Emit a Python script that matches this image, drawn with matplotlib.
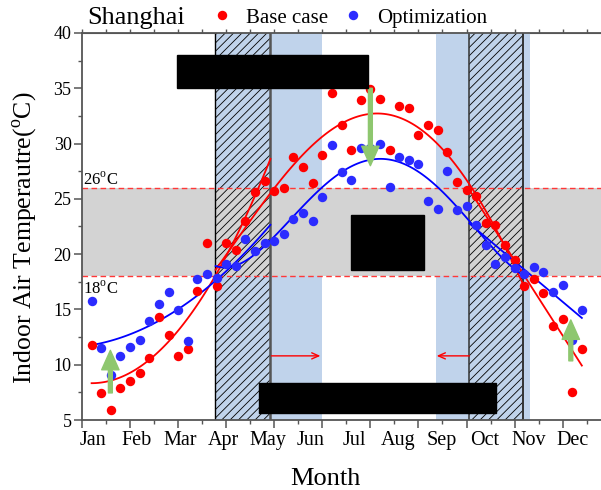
import numpy as np
import matplotlib
matplotlib.use('Agg')
import matplotlib.pyplot as plt
from matplotlib.lines import Line2D
from matplotlib.patches import Rectangle

plt.rcParams['font.family'] = 'Liberation Serif'
plt.rcParams['mathtext.fontset'] = 'custom'
plt.rcParams['mathtext.rm'] = 'Liberation Serif'
plt.rcParams['hatch.linewidth'] = 0.6
plt.rcParams['hatch.color'] = '#8a8a8a'

# weekly indoor air temperature, Shanghai (week 1..52)
weeks = np.arange(1, 53)
base_case = [11.78, 7.47, 5.87, 7.92, 8.53, 9.28, 10.6, 14.3, 12.66, 10.79,
             11.4, 16.67, 20.98, 17.12, 20.98, 20.37, 23.0, 25.59, 26.64, 25.74,
             25.98, 28.76, 27.91, 26.46, 28.97, 34.55, 31.68, 29.45, 33.91, 34.94,
             34.03, 29.42, 33.4, 33.19, 30.78, 31.68, 31.23, 29.24, 26.55, 25.8,
             25.26, 22.85, 22.61, 20.84, 19.5, 17.15, 17.72, 16.51, 13.5, 14.16,
             7.56, 11.45]
optimization = [15.76, 11.48, 9.1, 10.79, 11.63, 12.23, 13.95, 15.52, 16.58, 14.98,
                12.17, 17.78, 18.2, 17.81, 19.1, 18.95, 21.34, 20.31, 21.04, 21.22,
                21.82, 23.18, 23.69, 23.03, 25.2, 29.87, 27.4, 26.68, 29.63, 29.57,
                29.96, 26.1, 28.79, 28.51, 28.18, 24.78, 24.08, 27.55, 23.99, 24.35,
                22.64, 20.83, 19.11, 19.77, 18.77, 18.2, 18.87, 18.38, 16.6, 17.21,
                12.24, 14.98]

months = ['Jan', 'Feb', 'Mar', 'Apr', 'May', 'Jun', 'Jul', 'Aug', 'Sep', 'Oct', 'Nov', 'Dec']
month_pos = [1.15, 5.7, 10.2, 14.7, 19.3, 23.8, 28.3, 32.9, 37.4, 41.9, 46.5, 51.0]

comfort = (18, 26)
blue_spans = [(13.87, 24.94), (36.84, 46.62)]
hatch_spans = [(13.87, 19.59), (40.3, 45.92)]

# fit segments: (first week, last week, degree, draw from, draw to)
fit_segments = [(1, 19, 2, 1, 19.6), (14, 46, 4, 13.9, 45.9), (40, 52, 1, 40.3, 52)]

fig = plt.figure(figsize=(6.01, 4.90), dpi=100)
ax = fig.add_axes([82 / 601, 70 / 490, 521 / 601, 387 / 490])
ax.set_xlim(0, 54.2)
ax.set_ylim(5, 40)

for a, b in blue_spans:
    ax.axvspan(a, b, color='#c0d3eb', lw=0, zorder=0.5)
ax.axhspan(comfort[0], comfort[1], color='#d3d3d3', lw=0, zorder=0.6)
for a, b in hatch_spans:
    ax.axvspan(a, b, fill=False, hatch='////', lw=0, zorder=0.7)
ax.axvline(hatch_spans[0][0], color='black', lw=1.0, zorder=0.8)
ax.axvline(hatch_spans[0][1], color='#555555', lw=1.8, zorder=0.8)
ax.axvline(hatch_spans[1][0], color='#333333', lw=1.1, zorder=0.8)
ax.axvline(hatch_spans[1][1], color='#333333', lw=1.4, zorder=0.8)
for t in comfort:
    ax.axhline(t, color='#ff3838', lw=1.0, ls=(0, (4, 2.5)), zorder=0.9)
ax.text(0.15, 26.3, r'26$^{\rm o}$C', fontsize=12, va='baseline')
ax.text(0.15, 16.45, r'18$^{\rm o}$C', fontsize=12, va='baseline')

w = np.array(weeks, dtype=float)
for values, col in [(base_case, 'red'), (optimization, 'blue')]:
    v = np.array(values)
    for lo, hi, deg, d0, d1 in fit_segments:
        m = (w >= lo) & (w <= hi)
        p = np.polyfit(w[m], v[m], deg)
        xx = np.linspace(d0, d1, 120)
        ax.plot(xx, np.polyval(p, xx), color=col, lw=1.3, zorder=2)

ax.plot(weeks, base_case, 'o', color='#ff0000', ms=6.8, mec='none', zorder=3)
ax.plot(weeks, optimization, 'o', color='#2b2bff', ms=6.8, mec='none', zorder=3)

# arrows
green = dict(arrowstyle='simple,head_length=1.4,head_width=1.25,tail_width=0.28',
             color='#8ec76f', shrinkA=0, shrinkB=0, mutation_scale=10)
ax.annotate('', xy=(30, 28.0), xytext=(30, 35.0), arrowprops=green, zorder=4)
ax.annotate('', xy=(2.95, 11.3), xytext=(2.95, 7.45), arrowprops=green, zorder=4)
ax.annotate('', xy=(50.85, 14.05), xytext=(50.85, 10.35), arrowprops=green, zorder=4)
red_arrow = dict(arrowstyle='->,head_length=0.5,head_width=0.22', color='red', lw=1.0,
                 shrinkA=0, shrinkB=0)
ax.annotate('', xy=(24.8, 10.8), xytext=(19.7, 10.8), arrowprops=red_arrow, zorder=4)
ax.annotate('', xy=(36.9, 10.8), xytext=(40.3, 10.8), arrowprops=red_arrow, zorder=4)

# masked boxes
for x0, x1, y0, y1 in [(9.85, 29.76, 35.05, 38.01), (27.96, 35.59, 18.57, 23.54),
                       (18.39, 43.08, 5.66, 8.37)]:
    ax.add_patch(Rectangle((x0, y0), x1 - x0, y1 - y0, color='black', zorder=10))

# axes styling
for s in ax.spines.values():
    s.set_color('#555555')
    s.set_linewidth(1.3)
ax.set_xticks(np.arange(0, 55, 5))
ax.set_xticks(np.arange(0, 55, 2.5), minor=True)
ax.tick_params(axis='x', which='major', length=6, width=1.1, color='#555555', labelbottom=False)
ax.tick_params(axis='x', which='minor', length=3, width=1.0, color='#555555')
ax.set_yticks(np.arange(5, 41, 5))
ax.set_yticks(np.arange(5, 41, 2.5), minor=True)
ax.tick_params(axis='y', which='major', length=6, width=1.1, color='#555555', labelsize=13, pad=1.5)
ax.tick_params(axis='y', which='minor', length=3, width=1.0, color='#555555')

top = ax.secondary_xaxis('top')
top.set_xticks(np.arange(0, 55, 2.5))
top.tick_params(length=3, width=1.0, color='#555555', labeltop=False)
top.spines['top'].set_color('#555555')

lab = ax.secondary_xaxis('bottom')
lab.set_xticks(month_pos, labels=months)
lab.tick_params(length=0, labelsize=14.5, pad=8)
lab.spines['bottom'].set_visible(False)

fig.text(25 / 601, 1 - 238 / 490, r'Indoor Air Temperautre($^{\rm o}$C)', rotation=90,
         fontsize=18.5, ha='center', va='center')
fig.text(325 / 601, 1 - 485 / 490, 'Month', fontsize=19, ha='center', va='baseline')
fig.text(87 / 601, 1 - 18 / 490, 'Shanghai', fontsize=19, ha='left', va='center')

handles = [Line2D([], [], ls='none', marker='o', color='#ff0000', ms=6.8, mec='none'),
           Line2D([], [], ls='none', marker='o', color='#2b2bff', ms=6.8, mec='none')]
ax.legend(handles, ['Base case', 'Optimization'], loc='center left',
          bbox_to_anchor=(211.6 / 601, 1 - 18 / 490), bbox_transform=fig.transFigure,
          ncol=2, frameon=False, fontsize=15, handlelength=1.0, handletextpad=0.65,
          columnspacing=0.68, borderpad=0, borderaxespad=0)

fig.savefig('out.png', dpi=100)
